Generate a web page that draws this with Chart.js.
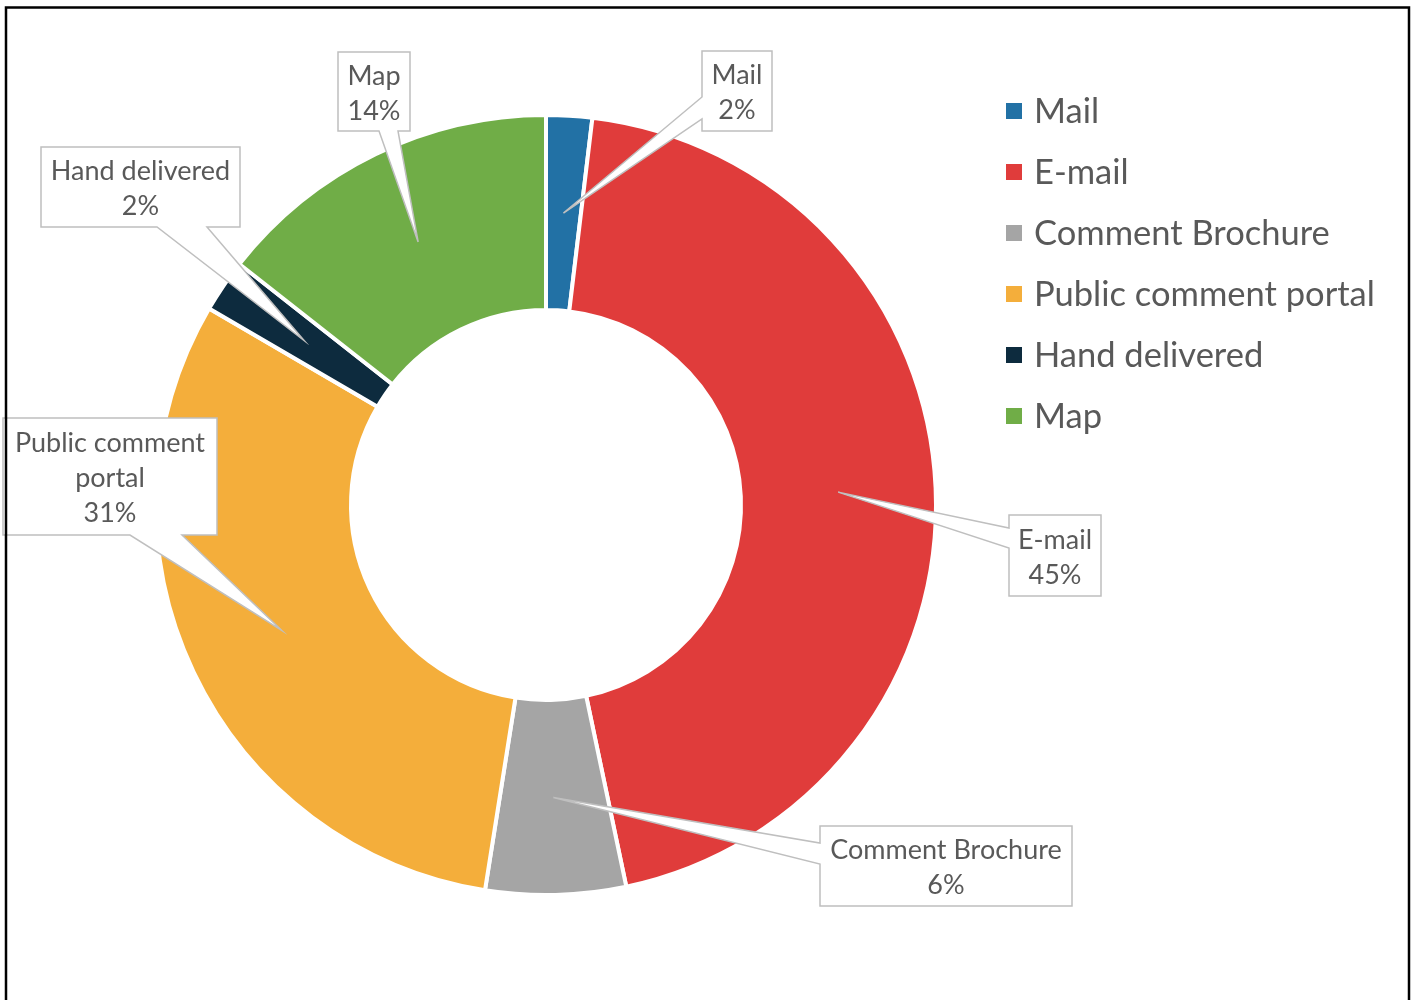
<!DOCTYPE html>
<html>
<head>
<meta charset="utf-8">
<script src="https://cdn.jsdelivr.net/npm/chart.js@4.4.1/dist/chart.umd.min.js"></script>
<style>
  html, body { margin: 0; padding: 0; background: #fff; }
  #wrap { width: 1417px; height: 1000px; }
</style>
</head>
<body>
<div id="wrap"><canvas id="chart" width="1417" height="1000"></canvas></div>
<script>
// Dati del grafico
const categories = ['Mail', 'E-mail', 'Comment Brochure', 'Public comment portal', 'Hand delivered', 'Map'];
const shares = [1.9, 44.8, 5.8, 30.9, 2.2, 14.4];
const sliceColors = ['#2271A5', '#E03C3B', '#A5A5A5', '#F4AE3B', '#0D2B3E', '#70AD47'];

// Caselle delle etichette: posizione della casella, lato e base della punta
const callouts = [
    { x: 702, y: 51, w: 70, h: 80, side: 'left', a: 97, b: 119 },
    { x: 1009, y: 515, w: 92, h: 81, side: 'left', a: 528, b: 548 },
    { x: 820, y: 826, w: 252, h: 80, side: 'left', a: 843, b: 864 },
    { x: 3, y: 418, w: 214, h: 117, side: 'bottom', a: 130, b: 182 },
    { x: 41, y: 147, w: 199, h: 80, side: 'bottom', a: 157, b: 207 },
    { x: 338, y: 52, w: 72, h: 79, side: 'bottom', a: 379, b: 398 }
];

const textColor = '#595959';
const fontFamily = 'Lato, "Noto Sans", sans-serif';

// Spezza il testo in righe che stanno nella casella
function wrapText(ctx, text, maxWidth) {
    const words = text.split(' ');
    const lines = [];
    let line = '';
    words.forEach(word => {
        const test = line ? line + ' ' + word : word;
        if (line && ctx.measureText(test).width > maxWidth) {
            lines.push(line);
            line = word;
        } else {
            line = test;
        }
    });
    lines.push(line);
    return lines;
}

// Etichette a fumetto
const calloutPlugin = {
    id: 'callouts',
    afterDraw(chart) {
        const ctx = chart.ctx;
        const meta = chart.getDatasetMeta(0);
        const total = shares.reduce((s, v) => s + v, 0);
        ctx.save();
        ctx.font = '27px ' + fontFamily;
        meta.data.forEach((arc, i) => {
            const c = callouts[i];
            const tip = arc.getCenterPoint();
            ctx.beginPath();
            ctx.moveTo(c.x, c.y);
            ctx.lineTo(c.x + c.w, c.y);
            ctx.lineTo(c.x + c.w, c.y + c.h);
            if (c.side === 'bottom') {
                ctx.lineTo(c.b, c.y + c.h);
                ctx.lineTo(tip.x, tip.y);
                ctx.lineTo(c.a, c.y + c.h);
            }
            ctx.lineTo(c.x, c.y + c.h);
            if (c.side === 'left') {
                ctx.lineTo(c.x, c.b);
                ctx.lineTo(tip.x, tip.y);
                ctx.lineTo(c.x, c.a);
            }
            ctx.closePath();
            ctx.fillStyle = '#ffffff';
            ctx.fill();
            ctx.strokeStyle = '#BFBFBF';
            ctx.lineWidth = 1.5;
            ctx.stroke();

            const lines = wrapText(ctx, categories[i], c.w).concat(Math.round(shares[i] / total * 100) + '%');
            const lineH = 35;
            const cx = c.x + c.w / 2;
            const firstY = c.y + c.h / 2 - (lines.length - 1) * lineH / 2;
            ctx.fillStyle = textColor;
            ctx.textAlign = 'center';
            ctx.textBaseline = 'alphabetic';
            lines.forEach((t, k) => ctx.fillText(t, cx, firstY + k * lineH + 10.5));
        });
        ctx.restore();
    }
};

// Legenda a destra e cornice
const legendPlugin = {
    id: 'sideLegend',
    afterDraw(chart) {
        const ctx = chart.ctx;
        ctx.save();
        ctx.font = '34.5px ' + fontFamily;
        ctx.textAlign = 'left';
        ctx.textBaseline = 'alphabetic';
        categories.forEach((name, i) => {
            const y = 111 + i * 61;
            ctx.fillStyle = sliceColors[i];
            ctx.fillRect(1006, y - 8, 16, 16);
            ctx.fillStyle = textColor;
            ctx.fillText(name, 1034, y + 11.5);
        });
        ctx.strokeStyle = '#000000';
        ctx.lineWidth = 2.5;
        ctx.strokeRect(6, 7.5, 1403, 1010);
        ctx.restore();
    }
};

const ctx = document.getElementById('chart').getContext('2d');
const chart = new Chart(ctx, {
    type: 'doughnut',
    data: {
        labels: categories,
        datasets: [{
            data: shares,
            backgroundColor: sliceColors,
            borderColor: '#ffffff',
            borderWidth: 4
        }]
    },
    options: {
        responsive: false,
        animation: false,
        events: [],
        cutout: '50%',
        layout: { padding: { left: 154, right: 479, top: 113, bottom: 103 } },
        plugins: {
            legend: { display: false },
            tooltip: { enabled: false }
        }
    },
    plugins: [calloutPlugin, legendPlugin]
});
</script>
</body>
</html>
